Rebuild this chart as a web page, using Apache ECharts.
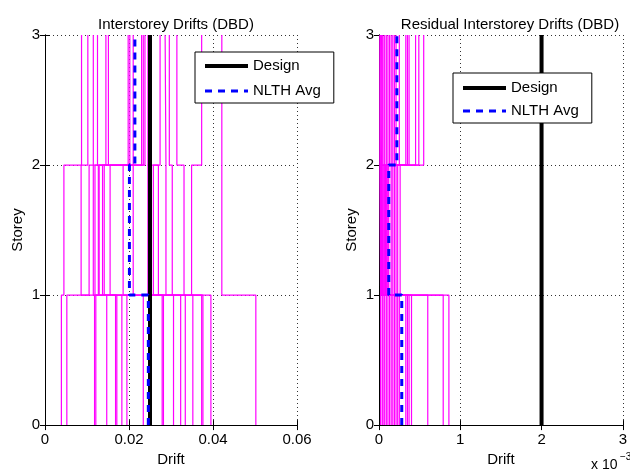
<!DOCTYPE html>
<html>
<head>
<meta charset="utf-8">
<script src="https://cdn.jsdelivr.net/npm/echarts@6/dist/echarts.min.js"></script>
<style>
  html, body { margin: 0; padding: 0; background: #fff; }
  #main { width: 630px; height: 472px; }
</style>
</head>
<body>
<div id="main"></div>
<script>
// storey levels
var storeys = [0, 1, 2, 3];

// peak interstorey drifts per record (storey 1, 2, 3)
var peakS1 = [0.0039, 0.0052, 0.0118, 0.0121, 0.0147, 0.0168, 0.0171, 0.0183, 0.0195, 0.0234,
              0.0279, 0.0282, 0.0306, 0.0323, 0.0334, 0.0352, 0.0373, 0.0376, 0.0395, 0.0502];
var peakS2 = [0.0045, 0.0105, 0.0086, 0.0127, 0.0115, 0.0141, 0.0119, 0.0155, 0.0129, 0.0186,
              0.0137, 0.0210, 0.0258, 0.0245, 0.0288, 0.0270, 0.0303, 0.0331, 0.0349, 0.0421];
var peakS3 = [0.0087, 0.0125, 0.0102, 0.0151, 0.0115, 0.0198, 0.0145, 0.0210, 0.0202, 0.0230,
              0.0238, 0.0234, 0.0274, 0.0250, 0.0286, 0.0245, 0.0296, 0.0314, 0.0373, 0.0421];
var peakDesign = [0.025, 0.025, 0.025];
var peakAvg = [0.0246, 0.0201, 0.0214];

// residual drifts per record, in units of 1e-3
var resS1 = [0.02, 0.04, 0.05, 0.07, 0.09, 0.11, 0.13, 0.15, 0.17, 0.19,
             0.21, 0.23, 0.25, 0.33, 0.35, 0.37, 0.40, 0.60, 0.79, 0.86];
var resS2 = [0.01, 0.02, 0.03, 0.02, 0.04, 0.03, 0.06, 0.05, 0.08, 0.07,
             0.09, 0.11, 0.10, 0.12, 0.15, 0.17, 0.19, 0.21, 0.23, 0.26];
var resS3 = [0.01, 0.03, 0.02, 0.05, 0.04, 0.07, 0.09, 0.11, 0.13, 0.15,
             0.17, 0.19, 0.21, 0.25, 0.33, 0.35, 0.37, 0.45, 0.49, 0.55];
var resDesign = [2, 2, 2];
var resAvg = [0.28, 0.12, 0.22];

// tick labels
var peakTicks = ['0', '0.02', '0.04', '0.06'];
var resTicks = ['0', '1', '2', '3'];

var FONT = 'Liberation Sans, Arial, Helvetica, sans-serif';

// vertical step through the storeys: value d[k] holds between storey k and k+1
function stepPoints(d) {
  var pts = [];
  for (var k = 0; k < d.length; k++) {
    pts.push([d[k], storeys[k]]);
    pts.push([d[k], storeys[k + 1]]);
  }
  return pts;
}

function recordSeries(a, b, c, xi, yi) {
  var out = [];
  for (var i = 0; i < a.length; i++) {
    out.push({
      type: 'line', xAxisIndex: xi, yAxisIndex: yi,
      data: stepPoints([a[i], b[i], c[i]]),
      symbol: 'none', silent: true, z: 2,
      lineStyle: { color: '#ff00ff', width: 1.2 }
    });
  }
  return out;
}

function xAxes(gi, max, interval, labels) {
  return [{
    gridIndex: gi, type: 'value', min: 0, max: max, interval: interval,
    position: 'bottom',
    name: 'Drift', nameLocation: 'middle', nameGap: 22,
    nameTextStyle: { color: '#000', fontSize: 15, fontFamily: FONT },
    axisLine: { lineStyle: { color: '#000', width: 1 } },
    axisTick: { inside: true, length: 5, lineStyle: { color: '#000' } },
    axisLabel: {
      color: '#000', fontSize: 15, fontFamily: FONT, margin: 7,
      formatter: function (v) { return labels[Math.round(v / interval)]; }
    },
    splitLine: { show: true, lineStyle: { color: '#333', type: [1, 3], width: 1 } }
  }, {
    gridIndex: gi, type: 'value', min: 0, max: max, interval: interval,
    position: 'top',
    axisLine: { lineStyle: { color: '#000', width: 1 } },
    axisTick: { inside: true, length: 5, lineStyle: { color: '#000' } },
    axisLabel: { show: false },
    splitLine: { show: false }
  }];
}

function yAxes(gi) {
  return [{
    gridIndex: gi, type: 'value', min: 0, max: 3, interval: 1,
    position: 'left',
    name: 'Storey', nameLocation: 'middle', nameGap: 20,
    nameTextStyle: { color: '#000', fontSize: 15, fontFamily: FONT },
    axisLine: { lineStyle: { color: '#000', width: 1 } },
    axisTick: { inside: true, length: 5, lineStyle: { color: '#000' } },
    axisLabel: { color: '#000', fontSize: 15, fontFamily: FONT, margin: 5 },
    splitLine: { show: true, lineStyle: { color: '#333', type: [1, 3], width: 1 } }
  }, {
    gridIndex: gi, type: 'value', min: 0, max: 3, interval: 1,
    position: 'right',
    axisLine: { lineStyle: { color: '#000', width: 1 } },
    axisTick: { inside: true, length: 5, lineStyle: { color: '#000' } },
    axisLabel: { show: false },
    splitLine: { show: false }
  }];
}

function legendAt(left, top, gap, pad) {
  return {
    left: left, top: top, orient: 'vertical',
    data: [
      { name: 'Design', lineStyle: { width: 4 } },
      { name: 'NLTH Avg', lineStyle: { width: 3 } }
    ],
    backgroundColor: '#fff', borderColor: '#000', borderWidth: 1,
    padding: pad, itemGap: gap, itemWidth: 43, itemHeight: 14,
    selectedMode: false,
    itemStyle: { opacity: 0 },
    textStyle: { color: '#000', fontSize: 15, fontFamily: FONT, lineHeight: 16 }
  };
}

var series = []
  .concat(recordSeries(peakS1, peakS2, peakS3, 0, 0))
  .concat(recordSeries(resS1, resS2, resS3, 2, 2));

series.push({
  name: 'Design', type: 'line', xAxisIndex: 0, yAxisIndex: 0, z: 3,
  data: stepPoints(peakDesign), symbol: 'none',
  lineStyle: { color: '#000', width: 4 }, itemStyle: { color: '#000' }
});
series.push({
  name: 'NLTH Avg', type: 'line', xAxisIndex: 0, yAxisIndex: 0, z: 4,
  data: stepPoints(peakAvg), symbol: 'none',
  lineStyle: { color: '#0000ff', width: 3, type: [7, 6] }, itemStyle: { color: '#0000ff' }
});
series.push({
  name: 'Design', type: 'line', xAxisIndex: 2, yAxisIndex: 2, z: 3,
  data: stepPoints(resDesign), symbol: 'none',
  lineStyle: { color: '#000', width: 4 }, itemStyle: { color: '#000' }
});
series.push({
  name: 'NLTH Avg', type: 'line', xAxisIndex: 2, yAxisIndex: 2, z: 4,
  data: stepPoints(resAvg), symbol: 'none',
  lineStyle: { color: '#0000ff', width: 3, type: [7, 6] }, itemStyle: { color: '#0000ff' }
});

var myChart = echarts.init(document.getElementById('main'));
myChart.setOption({
  animation: false,
  backgroundColor: '#fff',
  title: [
    { text: 'Interstorey Drifts (DBD)', left: 171, top: 12, textAlign: 'center',
      textStyle: { color: '#000', fontSize: 15, fontWeight: 'normal', fontFamily: FONT } },
    { text: 'Residual Interstorey Drifts (DBD)', left: 505, top: 12, textAlign: 'center',
      textStyle: { color: '#000', fontSize: 15, fontWeight: 'normal', fontFamily: FONT } }
  ],
  grid: [
    { left: 45, top: 35, width: 252, height: 392 },
    { left: 379, top: 35, width: 252, height: 392 }
  ],
  xAxis: xAxes(0, 0.06, 0.02, peakTicks).concat(xAxes(1, 3, 1, resTicks)),
  yAxis: yAxes(0).concat(yAxes(1)),
  legend: [
    legendAt(195, 52, 9, [6, 13, 4, 8]),
    legendAt(453, 73, 7, [7, 13, 4, 8])
  ],
  graphic: [
    { type: 'text', x: 591, y: 465,
      style: { text: 'x 10', fill: '#000', font: '14px ' + FONT, align: 'left', verticalAlign: 'middle' } },
    { type: 'text', x: 620, y: 457,
      style: { text: '\u22123', fill: '#000', font: '10px ' + FONT, align: 'left', verticalAlign: 'middle' } }
  ],
  series: series
});
</script>
</body>
</html>
